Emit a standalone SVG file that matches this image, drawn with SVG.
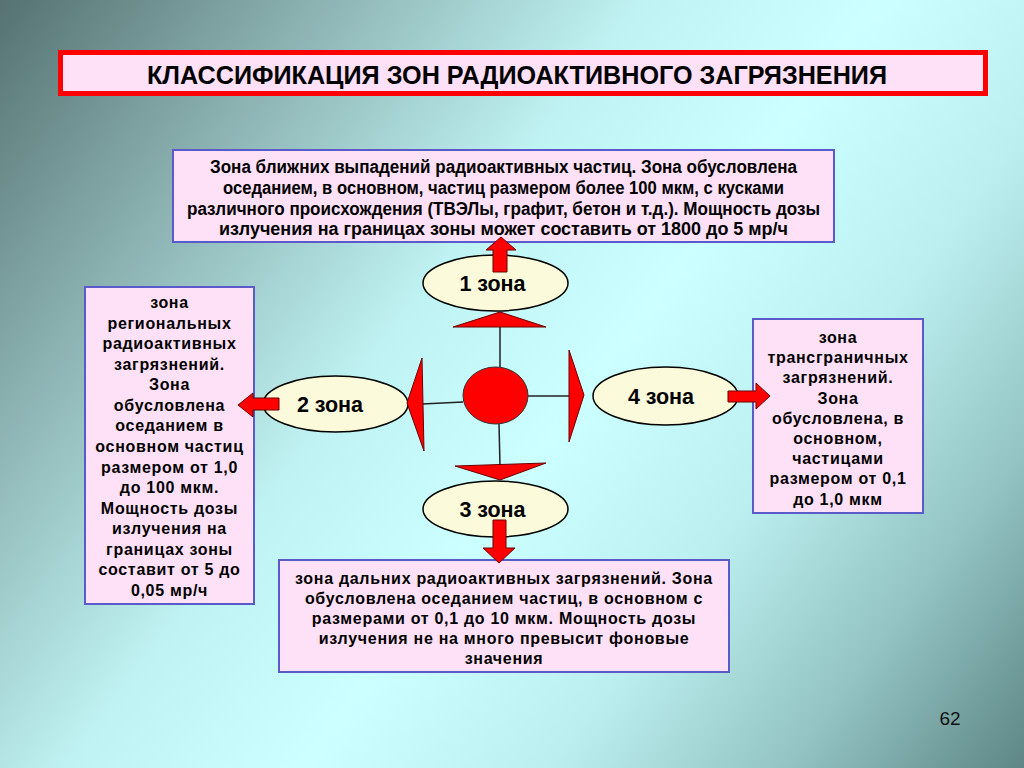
<svg xmlns="http://www.w3.org/2000/svg" width="1024" height="768" viewBox="0 0 1024 768">
<defs>
<linearGradient id="bg" gradientUnits="userSpaceOnUse" x1="0" y1="0" x2="1024" y2="768">
<stop offset="0" stop-color="#567272"/>
<stop offset="0.2" stop-color="#8cb2b2"/>
<stop offset="0.4" stop-color="#bff2f2"/>
<stop offset="0.55" stop-color="#ccffff"/>
<stop offset="0.7" stop-color="#bcf0f0"/>
<stop offset="0.85" stop-color="#94c4c4"/>
<stop offset="1" stop-color="#5e8686"/>
</linearGradient>
<style>
.box{fill:#ffe1f7;stroke:#5a5ac8;stroke-width:2}
.t{font-family:"Liberation Sans",Arial,sans-serif;font-weight:bold;fill:#000;text-anchor:middle}
.bt{font-size:17.5px}
.sp{font-size:16px;letter-spacing:0.7px}
.zone{fill:#fbfbdc;stroke:#000;stroke-width:1.5}
.zl{font-size:21.5px}
.red{fill:#ff0000;stroke:#6a0000;stroke-width:1}
.ln{stroke:#222;stroke-width:1.5;fill:none}
</style>
</defs>
<rect width="1024" height="768" fill="url(#bg)"/>

<g id="title">
<rect x="60.5" y="52.5" width="925" height="41" fill="#ffe1f7" stroke="#ff0000" stroke-width="5"/>
<text class="t" x="517" y="83.5" font-size="25" textLength="740" lengthAdjust="spacingAndGlyphs">КЛАССИФИКАЦИЯ ЗОН РАДИОАКТИВНОГО ЗАГРЯЗНЕНИЯ</text>
</g>

<g id="box-top">
<rect class="box" x="173" y="150" width="661" height="92"/>
<text class="t bt"><tspan x="503.5" y="173" textLength="587" lengthAdjust="spacingAndGlyphs">Зона ближних выпадений радиоактивных частиц. Зона обусловлена</tspan><tspan x="503.5" y="194" textLength="561" lengthAdjust="spacingAndGlyphs">оседанием, в основном, частиц размером более 100 мкм, с кусками</tspan><tspan x="503.5" y="215" textLength="633" lengthAdjust="spacingAndGlyphs">различного происхождения (ТВЭЛы, графит, бетон и т.д.). Мощность дозы</tspan><tspan x="503.5" y="235" textLength="569" lengthAdjust="spacingAndGlyphs">излучения на границах зоны может составить от 1800 до 5 мр/ч</tspan></text>
</g>

<g id="box-left">
<rect class="box" x="85" y="287" width="169" height="317"/>
<text class="t sp"><tspan x="169.5" y="308">зона</tspan><tspan x="169.5" y="328.6">региональных</tspan><tspan x="169.5" y="349.1">радиоактивных</tspan><tspan x="169.5" y="369.7">загрязнений.</tspan><tspan x="169.5" y="390.3">Зона</tspan><tspan x="169.5" y="410.9">обусловлена</tspan><tspan x="169.5" y="431.4">оседанием в</tspan><tspan x="169.5" y="452">основном частиц</tspan><tspan x="169.5" y="472.6">размером от 1,0</tspan><tspan x="169.5" y="493.1">до 100 мкм.</tspan><tspan x="169.5" y="513.7">Мощность дозы</tspan><tspan x="169.5" y="534.3">излучения на</tspan><tspan x="169.5" y="554.9">границах зоны</tspan><tspan x="169.5" y="575.4">составит от 5 до</tspan><tspan x="169.5" y="596">0,05 мр/ч</tspan></text>
</g>

<g id="box-right">
<rect class="box" x="753" y="319" width="170" height="194"/>
<text class="t sp"><tspan x="838" y="343">зона</tspan><tspan x="838" y="363.2">трансграничных</tspan><tspan x="838" y="383.4">загрязнений.</tspan><tspan x="838" y="403.6">Зона</tspan><tspan x="838" y="423.8">обусловлена, в</tspan><tspan x="838" y="444">основном,</tspan><tspan x="838" y="464.2">частицами</tspan><tspan x="838" y="484.4">размером от 0,1</tspan><tspan x="838" y="504.6">до 1,0 мкм</tspan></text>
</g>

<g id="box-bottom">
<rect class="box" x="279" y="560" width="450" height="112"/>
<text class="t sp"><tspan x="504" y="584">зона дальних радиоактивных загрязнений. Зона</tspan><tspan x="504" y="604">обусловлена оседанием частиц, в основном с</tspan><tspan x="504" y="624">размерами от 0,1 до 10 мкм. Мощность дозы</tspan><tspan x="504" y="644">излучения не на много превысит фоновые</tspan><tspan x="504" y="664">значения</tspan></text>
</g>

<g id="zone1">
<ellipse class="zone" cx="495.5" cy="283" rx="72.5" ry="28"/>
<text class="t zl" x="492.5" y="291">1 зона</text>
</g>
<g id="zone2">
<ellipse class="zone" cx="335.5" cy="404" rx="72.5" ry="28"/>
<text class="t zl" x="330" y="412">2 зона</text>
</g>
<g id="zone3">
<ellipse class="zone" cx="495.5" cy="509" rx="72.5" ry="28"/>
<text class="t zl" x="492.5" y="517">3 зона</text>
</g>
<g id="zone4">
<ellipse class="zone" cx="665.5" cy="396" rx="72.5" ry="29"/>
<text class="t zl" x="661" y="404">4 зона</text>
</g>

<g id="center">
<ellipse cx="495.5" cy="395.5" rx="32.5" ry="28.5" fill="#ff0000" stroke="#333" stroke-width="1"/>
</g>

<g id="connectors">
<line class="ln" x1="500" y1="327" x2="500" y2="367"/>
<line class="ln" x1="499" y1="424" x2="500" y2="466"/>
<line class="ln" x1="422" y1="404" x2="463" y2="402"/>
<line class="ln" x1="528" y1="396" x2="569" y2="396"/>
<polygon class="red" points="453,327 546,327 500,312"/>
<polygon class="red" points="455,466 546,463 500,480"/>
<polygon class="red" points="422,358 424,451 407,403"/>
<polygon class="red" points="569,350 569,442 584,395"/>
<path class="red" d="M493,272 L493,250 L486,250 L501,237 L516,250 L507,250 L507,272 Z"/>
<path class="red" d="M493,520 L493,548 L483,548 L499,563 L515,548 L506,548 L506,520 Z"/>
<path class="red" d="M279,398 L253,398 L253,393 L238,405 L253,417 L253,410 L279,410 Z"/>
<path class="red" d="M728,391 L756,391 L756,383 L770,396 L756,409 L756,402 L728,402 Z"/>
</g>

<text x="950" y="725" font-family="'Liberation Sans',Arial,sans-serif" font-size="19" text-anchor="middle" fill="#111">62</text>
</svg>
